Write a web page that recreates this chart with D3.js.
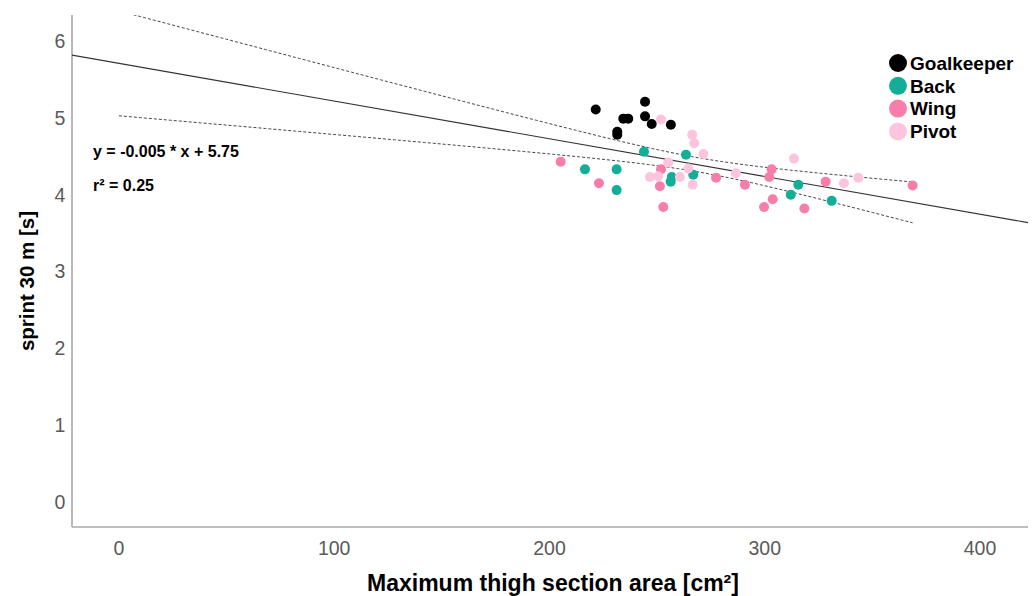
<!DOCTYPE html>
<html>
<head>
<meta charset="utf-8">
<script src="https://cdn.jsdelivr.net/npm/d3@7"></script>
<style>
  body { margin: 0; background: #fff; }
  svg text { font-family: "Liberation Sans", Arial, sans-serif; }
</style>
</head>
<body>
<div id="chart"></div>
<script>
// positions / groups
const positions = ['Goalkeeper', 'Back', 'Wing', 'Pivot'];
const posColors = ['#000000', '#12ae98', '#f97daa', '#fec4de'];

const goalkeeperArea = [221.5, 244.4, 234.3, 236.6, 244.4, 247.5, 256.4, 231.5, 231.5];
const goalkeeperSprint = [5.11, 5.21, 4.99, 4.99, 5.02, 4.92, 4.91, 4.82, 4.78];

const backArea = [243.9, 263.4, 216.5, 231.2, 231.2, 256.8, 256.3, 266.8, 315.6, 312.1, 331.1];
const backSprint = [4.56, 4.52, 4.33, 4.33, 4.06, 4.23, 4.17, 4.26, 4.13, 4.00, 3.92];

const wingArea = [205.2, 223.0, 251.8, 251.3, 252.9, 277.4, 303.2, 302.1, 290.8, 303.7, 299.7, 318.4, 328.3, 368.7];
const wingSprint = [4.43, 4.15, 4.33, 4.11, 3.84, 4.22, 4.33, 4.23, 4.13, 3.94, 3.84, 3.82, 4.17, 4.12];

const pivotArea = [251.8, 266.3, 267.3, 271.5, 255.2, 264.5, 246.7, 250.5, 260.6, 266.5, 313.6, 286.6, 336.8, 343.5];
const pivotSprint = [4.98, 4.78, 4.67, 4.53, 4.42, 4.34, 4.23, 4.24, 4.23, 4.13, 4.47, 4.28, 4.15, 4.22];

const xTicks = [0, 100, 200, 300, 400];
const yTicks = [0, 1, 2, 3, 4, 5, 6];
const equationText = 'y = -0.005 * x + 5.75';
const r2Text = 'r² = 0.25';
const tCrit = 2.013; // 95% t value, df = 46

drawChart();

function drawChart() {
    const width = 1032;
    const height = 596;
    const margin = { top: 15, right: 4, bottom: 69, left: 72 };

    const svg = d3.select('#chart')
        .append('svg')
        .attr('width', width)
        .attr('height', height);

    const x = d3.scaleLinear().domain([-21.8, 422.3]).range([margin.left, width - margin.right]);
    const y = d3.scaleLinear().domain([-0.325, 6.339]).range([height - margin.bottom, margin.top]);

    // gather all points
    const groups = [
        [goalkeeperArea, goalkeeperSprint],
        [backArea, backSprint],
        [wingArea, wingSprint],
        [pivotArea, pivotSprint]
    ];
    const points = [];
    groups.forEach(function(g, i) {
        g[0].forEach(function(v, j) {
            points.push({ pos: positions[i], color: posColors[i], x: v, y: g[1][j] });
        });
    });

    // linear fit + 95% confidence band of the mean
    const n = points.length;
    const mx = d3.mean(points, d => d.x);
    const my = d3.mean(points, d => d.y);
    const sxx = d3.sum(points, d => (d.x - mx) * (d.x - mx));
    const sxy = d3.sum(points, d => (d.x - mx) * (d.y - my));
    const slope = sxy / sxx;
    const intercept = my - slope * mx;
    const sse = d3.sum(points, d => Math.pow(d.y - (intercept + slope * d.x), 2));
    const s = Math.sqrt(sse / (n - 2));
    const fit = v => intercept + slope * v;
    const half = v => tCrit * s * Math.sqrt(1 / n + (v - mx) * (v - mx) / sxx);

    svg.append('defs').append('clipPath').attr('id', 'plot-clip')
        .append('rect')
        .attr('x', margin.left)
        .attr('y', margin.top)
        .attr('width', width - margin.left - margin.right)
        .attr('height', height - margin.top - margin.bottom);

    // axis lines
    svg.append('line')
        .attr('x1', margin.left).attr('x2', margin.left)
        .attr('y1', margin.top).attr('y2', height - margin.bottom)
        .attr('stroke', '#a8a8a8').attr('stroke-width', 1.6);
    svg.append('line')
        .attr('x1', margin.left).attr('x2', width - margin.right)
        .attr('y1', height - margin.bottom).attr('y2', height - margin.bottom)
        .attr('stroke', '#a8a8a8').attr('stroke-width', 1.6);

    // tick labels
    svg.append('g').selectAll('text')
        .data(yTicks)
        .join('text')
        .attr('x', 60)
        .attr('y', d => y(d))
        .attr('dy', '0.35em')
        .attr('text-anchor', 'middle')
        .attr('font-size', 19.5)
        .attr('fill', '#5a5a5a')
        .text(d => d);

    svg.append('g').selectAll('text')
        .data(xTicks)
        .join('text')
        .attr('x', d => x(d))
        .attr('y', 548)
        .attr('dy', '0.35em')
        .attr('text-anchor', 'middle')
        .attr('font-size', 19.5)
        .attr('fill', '#5a5a5a')
        .text(d => d);

    // axis titles
    svg.append('text')
        .attr('x', 553)
        .attr('y', 591)
        .attr('text-anchor', 'middle')
        .attr('font-size', 23)
        .attr('font-weight', 'bold')
        .text('Maximum thigh section area [cm²]');

    svg.append('text')
        .attr('transform', 'translate(34,281) rotate(-90)')
        .attr('text-anchor', 'middle')
        .attr('font-size', 20.5)
        .attr('font-weight', 'bold')
        .text('sprint 30 m [s]');

    const plot = svg.append('g').attr('clip-path', 'url(#plot-clip)');

    // regression line over the whole plot width
    const xd = x.domain();
    plot.append('line')
        .attr('x1', x(xd[0])).attr('y1', y(fit(xd[0])))
        .attr('x2', x(xd[1])).attr('y2', y(fit(xd[1])))
        .attr('stroke', '#333').attr('stroke-width', 1.1);

    // confidence band lines, from 0 to max area
    const xMax = d3.max(points, d => d.x);
    const bandXs = d3.range(0, xMax, 2).concat([xMax]);
    const bandLine = d3.line().x(d => x(d[0])).y(d => y(d[1]));
    [1, -1].forEach(function(sign) {
        plot.append('path')
            .attr('d', bandLine(bandXs.map(v => [v, fit(v) + sign * half(v)])))
            .attr('fill', 'none')
            .attr('stroke', '#444')
            .attr('stroke-width', 1)
            .attr('stroke-dasharray', '3,2');
    });

    // points
    plot.append('g').selectAll('circle')
        .data(points)
        .join('circle')
        .attr('cx', d => x(d.x))
        .attr('cy', d => y(d.y))
        .attr('r', 5)
        .attr('fill', d => d.color);

    // equation labels
    svg.append('text')
        .attr('x', 93).attr('y', 157)
        .attr('font-size', 16).attr('font-weight', 'bold')
        .text(equationText);
    svg.append('text')
        .attr('x', 93).attr('y', 191)
        .attr('font-size', 16).attr('font-weight', 'bold')
        .text(r2Text);

    // legend
    const legend = svg.append('g').selectAll('g')
        .data(positions)
        .join('g')
        .attr('transform', (d, i) => `translate(898, ${63 + i * 22.8})`);
    legend.append('circle')
        .attr('r', 9)
        .attr('fill', (d, i) => posColors[i]);
    legend.append('text')
        .attr('x', 12)
        .attr('dy', '0.36em')
        .attr('font-size', 19)
        .attr('font-weight', 'bold')
        .text(d => d);
}
</script>
</body>
</html>
